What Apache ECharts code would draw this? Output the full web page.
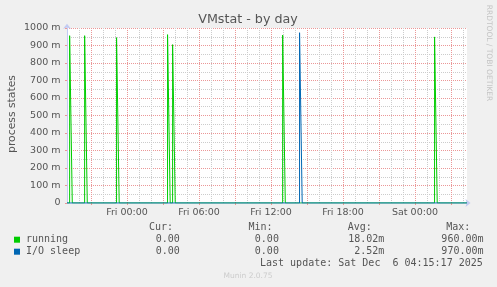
<!DOCTYPE html>
<html><head><meta charset="utf-8">
<script src="https://cdn.jsdelivr.net/npm/echarts@6/dist/echarts.min.js"></script>
<style>html,body{margin:0;padding:0;background:#f0f0f0}#c{width:497px;height:287px}</style>
</head><body><div id="c"></div>
<script>
// ---- data (hours relative to Fri 00:00) ----
const xMinHour = -5;
const xMaxHour = 28.333;
const majorHours = [-3, 0, 3, 6, 9, 12, 15, 18, 21, 24, 27];
const minorHours = [-4,-3,-2,-1,0,1,2,3,4,5,6,7,8,9,10,11,12,13,14,15,16,17,18,19,20,21,22,23,24,25,26,27,28];
const xLabelHours = [0, 6, 12, 18, 24];
const xLabelTexts = ['Fri 00:00', 'Fri 06:00', 'Fri 12:00', 'Fri 18:00', 'Sat 00:00'];
const yTickValues = [0, 0.1, 0.2, 0.3, 0.4, 0.5, 0.6, 0.7, 0.8, 0.9, 1.0];
const yTickTexts = ['0', '100 m', '200 m', '300 m', '400 m', '500 m', '600 m', '700 m', '800 m', '900 m', '1000 m'];

const runningSpikeHours = [-4.78, -3.53, -0.87, 3.38, 3.80, 12.97, 25.63];
const runningSpikeValues = [0.956, 0.956, 0.945, 0.962, 0.905, 0.96, 0.949];
const ioSleepSpikeHours = [14.38];
const ioSleepSpikeValues = [0.973];
const spikeFallHours = 0.22;

const seriesNames = ['running', 'I/O sleep'];
const seriesColors = ['#00cc00', '#0066b3'];
const curValues = ['0.00', '0.00'];
const minValues = ['0.00', '0.00'];
const avgValues = ['18.02m', '2.52m'];
const maxValues = ['960.00m', '970.00m'];
const lastUpdate = 'Last update: Sat Dec  6 04:15:17 2025';

function buildLine(hours, vals) {
  const pts = [[xMinHour, 0]];
  hours.forEach((h, i) => {
    pts.push([h, 0]);
    pts.push([h, vals[i]]);
    pts.push([h + spikeFallHours, 0]);
  });
  pts.push([xMaxHour, 0]);
  return pts;
}

const RED = '#eb9797';
const GREY = '#cccccc';
const AXIS = '#c2caf2';
const TXT = '#555';
const SANS = 'DejaVu Sans';
const MONO = 'DejaVu Sans Mono';

const chart = echarts.init(document.getElementById('c'), null, {renderer: 'canvas'});

function t(text, x, y, opts) {
  return {
    type: 'text', x: x, y: y, silent: true,
    style: Object.assign({text: text, fill: TXT, font: '10px ' + MONO, align: 'left', verticalAlign: 'middle'}, opts || {})
  };
}

const legendRows = [239.7, 251.7];
const graphics = [
  t('VMstat - by day', 248, 19.5, {font: '12.7px ' + SANS, align: 'center'}),
  Object.assign(t('process states', 12, 114, {font: '10.8px ' + SANS, align: 'center'}), {rotation: Math.PI / 2}),
  Object.assign(t('RRDTOOL / TOBI OETIKER', 488.5, 53, {font: '7.5px ' + SANS, align: 'center', fill: '#c4c4c4'}), {rotation: -Math.PI / 2}),
  t('Cur:', 149, 227.3),
  t('Min:', 248.4, 227.3),
  t('Avg:', 347.7, 227.3),
  t('Max:', 446.3, 227.3),
  t(lastUpdate, 260, 263.3),
  t('Munin 2.0.75', 248, 276, {font: '7.5px ' + SANS, align: 'center', fill: '#cccccc'})
];
seriesNames.forEach((n, i) => {
  const y = legendRows[i];
  graphics.push({type: 'rect', shape: {x: 14, y: y - 3, width: 6, height: 6}, style: {fill: seriesColors[i]}, silent: true});
  graphics.push(t(n, 26, y));
  graphics.push(t(curValues[i], 179.8, y, {align: 'right'}));
  graphics.push(t(minValues[i], 278.9, y, {align: 'right'}));
  graphics.push(t(avgValues[i], 384.3, y, {align: 'right'}));
  graphics.push(t(maxValues[i], 483.5, y, {align: 'right'}));
});

const option = {
  backgroundColor: '#f0f0f0',
  animation: false,
  grid: {left: 67, right: 30, top: 28, height: 175, show: true, backgroundColor: '#ffffff', borderWidth: 0},
  xAxis: [
    {
      type: 'value', min: xMinHour, max: xMaxHour, gridIndex: 0, position: 'bottom',
      axisLine: {show: false},
      axisTick: {show: false, customValues: minorHours},
      axisLabel: {show: false},
      splitLine: {show: true, lineStyle: {color: GREY, type: [1, 1], width: 1}}
    },
    {
      type: 'value', min: xMinHour, max: xMaxHour, gridIndex: 0, position: 'bottom',
      axisLine: {show: true, onZero: false, lineStyle: {color: AXIS, width: 1}, symbol: ['none', 'arrow'], symbolSize: [6, 5], symbolOffset: [0, 3.5]},
      axisTick: {show: true, length: 2, customValues: majorHours, lineStyle: {color: RED}},
      axisLabel: {show: true, customValues: xLabelHours, margin: 5, color: TXT, fontFamily: SANS, fontSize: 9.5,
        formatter: v => xLabelTexts[xLabelHours.indexOf(Math.round(v))] || ''},
      splitLine: {show: true, lineStyle: {color: RED, type: [1, 1], width: 1}}
    }
  ],
  yAxis: {
    type: 'value', min: 0, max: 1, interval: 0.1,
    axisLine: {show: true, onZero: false, lineStyle: {color: AXIS, width: 1}, symbol: ['none', 'arrow'], symbolSize: [6, 5], symbolOffset: [0, 4.3]},
    axisTick: {show: true, length: 2, lineStyle: {color: RED}},
    axisLabel: {margin: 6.5, color: TXT, fontFamily: SANS, fontSize: 9.5,
      formatter: v => { const k = yTickValues.findIndex(a => Math.abs(a - v) < 1e-6); return k >= 0 ? yTickTexts[k] : ''; }},
    splitLine: {show: true, lineStyle: {color: RED, type: [1, 1], width: 1}},
    minorTick: {show: false, splitNumber: 2},
    minorSplitLine: {show: true, lineStyle: {color: GREY, type: [1, 1], width: 1}}
  },
  series: [
    {name: seriesNames[0], type: 'line', xAxisIndex: 1, data: buildLine(runningSpikeHours, runningSpikeValues),
      showSymbol: false, symbol: 'none', lineStyle: {color: seriesColors[0], width: 1}, z: 3},
    {name: seriesNames[1], type: 'line', xAxisIndex: 1, data: buildLine(ioSleepSpikeHours, ioSleepSpikeValues),
      showSymbol: false, symbol: 'none', lineStyle: {color: seriesColors[1], width: 1}, z: 4}
  ],
  graphic: graphics
};
chart.setOption(option);
</script>
</body></html>
